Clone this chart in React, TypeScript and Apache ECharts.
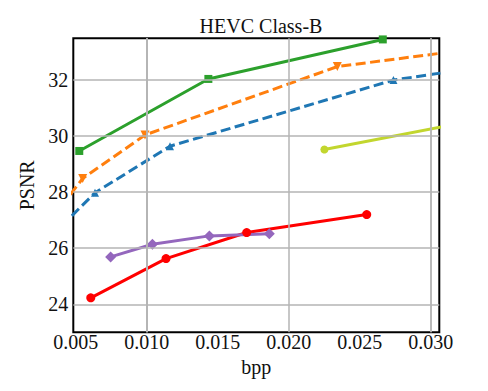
import React, { useEffect, useRef } from "react";
import * as echarts from "echarts";

const title = "HEVC Class-B";
const xName = "bpp";
const yName = "PSNR";
const xTicks = [0.005, 0.01, 0.015, 0.02, 0.025, 0.03];
const yTicks = [24, 26, 28, 30, 32];

const greenX = [0.00525, 0.01434, 0.02662];
const greenY = [29.47, 32.04, 33.45];
const orangeX = [0.0040, 0.00549, 0.00988, 0.02342, 0.035];
const orangeY = [27.5, 28.49, 30.04, 32.48, 33.24];
const blueX = [0.0040, 0.00636, 0.01164, 0.02737, 0.035];
const blueY = [26.79, 27.98, 29.64, 32.0, 32.57];
const limeX = [0.02251, 0.035];
const limeY = [29.52, 30.74];
const redX = [0.00606, 0.01136, 0.01704, 0.02549];
const redY = [24.23, 25.63, 26.56, 27.2];
const purpleX = [0.00746, 0.0104, 0.01441, 0.01863];
const purpleY = [25.69, 26.14, 26.44, 26.52];

const zip = (xs: number[], ys: number[]) => xs.map((x, i) => [x, ys[i]]);

export default function App() {
  const ref = useRef<HTMLDivElement>(null);
  useEffect(() => {
    if (!ref.current) return;
    const chart = echarts.init(ref.current, undefined, { renderer: "svg" });
    const font = "Liberation Serif";
    const mk = (
      name: string,
      xs: number[],
      ys: number[],
      color: string,
      symbol: string,
      size: number,
      dashed: boolean,
      rotate = 0
    ) => ({
      name,
      type: "line",
      data: zip(xs, ys),
      z: 3,
      clip: true,
      symbol,
      symbolSize: size,
      symbolRotate: rotate,
      showSymbol: true,
      lineStyle: { color, width: 3, type: dashed ? [10, 4.5] : "solid" },
      itemStyle: { color },
    });
    chart.setOption({
      animation: false,
      textStyle: { fontFamily: font },
      title: {
        text: title,
        left: 256,
        textAlign: "center",
        top: 11,
        textStyle: { fontFamily: font, fontSize: 20, fontWeight: "normal", color: "#111" },
      },
      grid: {
        left: 73.3,
        right: 48.7,
        top: 38.3,
        bottom: 58.7,
        show: true,
        borderColor: "#000",
        borderWidth: 2,
        backgroundColor: "transparent",
      },
      xAxis: {
        type: "value",
        min: 0.00483,
        max: 0.0306,
        name: xName,
        nameLocation: "middle",
        nameGap: 18,
        nameTextStyle: { fontFamily: font, fontSize: 20, color: "#111" },
        axisLine: { show: false },
        axisTick: { show: false },
        splitLine: { show: false },
        axisLabel: {
          customValues: xTicks,
          fontFamily: font,
          fontSize: 20,
          color: "#111",
          margin: 0,
          formatter: (v: number) => v.toFixed(3),
        },
      },
      yAxis: {
        type: "value",
        min: 23.0,
        max: 33.49,
        name: yName,
        nameLocation: "middle",
        nameGap: 24,
        nameTextStyle: { fontFamily: font, fontSize: 20, color: "#111" },
        axisLine: { show: false },
        axisTick: { show: false },
        splitLine: { show: false },
        axisLabel: {
          customValues: yTicks,
          fontFamily: font,
          fontSize: 20,
          color: "#111",
          margin: 5,
          formatter: (v: number) => String(v),
        },
      },
      series: [
        {
          type: "line",
          data: [],
          z: 1,
          markLine: {
            silent: true,
            symbol: "none",
            label: { show: false },
            lineStyle: { color: "#b5b5b5", width: 1.5, type: "solid" },
            data: [
              ...xTicks.map((v) => ({ xAxis: v })),
              ...yTicks.map((v) => ({ yAxis: v })),
            ],
          },
        },
        mk("green", greenX, greenY, "#2ca02c", "rect", 8, false),
        mk("orange", orangeX, orangeY, "#ff7f0e", "triangle", 9, true, 180),
        mk("blue", blueX, blueY, "#1f77b4", "triangle", 8, true),
        mk("lime", limeX, limeY, "#c2d62e", "circle", 8, false),
        mk("red", redX, redY, "#ff0000", "circle", 9, false),
        mk("purple", purpleX, purpleY, "#9467bd", "diamond", 11, false),
      ],
    });
    return () => chart.dispose();
  }, []);
  return (
    <div
      ref={ref}
      style={{ position: "fixed", left: 0, top: 0, width: 488, height: 391, background: "#fff" }}
    />
  );
}
